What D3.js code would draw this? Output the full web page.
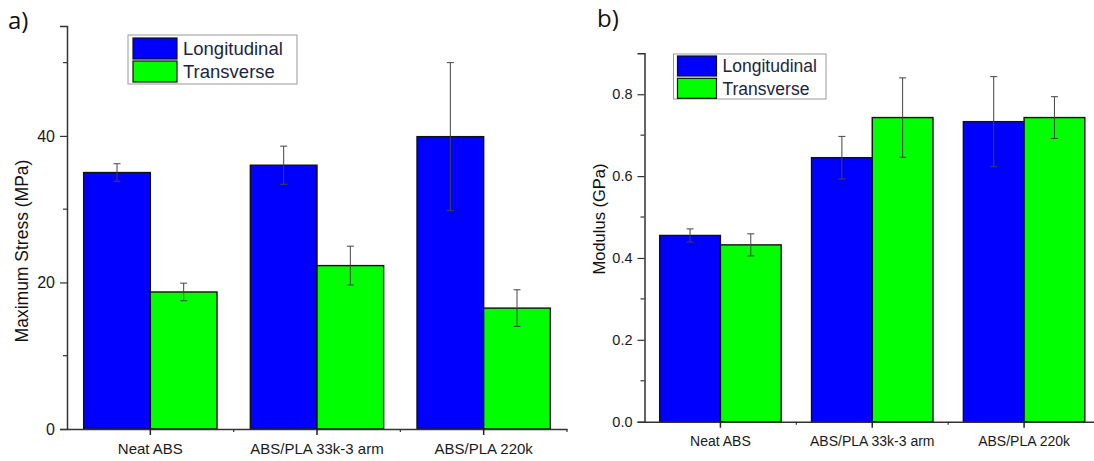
<!DOCTYPE html>
<html>
<head>
<meta charset="utf-8">
<script src="https://cdn.jsdelivr.net/npm/d3@7"></script>
<style>
  body { margin: 0; background: #fff; }
  svg { display: block; }
  svg text { font-family: "Liberation Sans", Arial, sans-serif; }
</style>
</head>
<body>
<svg id="chart" width="1094" height="461"></svg>
<script>
// data
var categories = ["Neat ABS", "ABS/PLA 33k-3 arm", "ABS/PLA 220k"];
var series = ["Longitudinal", "Transverse"];
var colors = ["#0000ff", "#00ff00"];

var stressLong = [35.0, 36.0, 39.9];
var stressLongErr = [1.2, 2.6, 10.1];
var stressTrans = [18.7, 22.3, 16.5];
var stressTransErr = [1.2, 2.65, 2.5];

var modLong = [0.455, 0.645, 0.733];
var modLongErr = [0.016, 0.052, 0.11];
var modTrans = [0.432, 0.743, 0.743];
var modTransErr = [0.027, 0.097, 0.051];

var stressTicks = [0, 20, 40];
var stressMinor = [10, 30, 50];
var modTicks = [0, 0.2, 0.4, 0.6, 0.8];
var modMinor = [0.1, 0.3, 0.5, 0.7];

var svg = d3.select("#chart");

function drawPanel(p) {
    var g = svg.append("g");

    var x = d3.scaleBand()
        .domain(categories)
        .range([p.x0, p.x1])
        .paddingInner(0.2)
        .paddingOuter(0.1);
    var xs = d3.scaleBand()
        .domain(series)
        .range([0, x.bandwidth()]);
    var y = d3.scaleLinear()
        .domain(p.domain)
        .range([p.y0, p.y1]);

    var rows = [];
    categories.forEach(function(c, i) {
        series.forEach(function(s, j) {
            rows.push({cat: c, ser: s, color: colors[j], v: p.values[j][i], e: p.errors[j][i]});
        });
    });

    // bars
    g.selectAll(".bar")
        .data(rows)
        .enter()
        .append("rect")
        .attr("class", "bar")
        .attr("x", function(d) { return x(d.cat) + xs(d.ser); })
        .attr("y", function(d) { return y(d.v); })
        .attr("width", xs.bandwidth())
        .attr("height", function(d) { return y(0) - y(d.v); })
        .attr("fill", function(d) { return d.color; })
        .attr("stroke", "#111")
        .attr("stroke-width", 1.4);

    // error bars
    var err = g.selectAll(".err")
        .data(rows)
        .enter()
        .append("g")
        .attr("class", "err")
        .attr("stroke", "#444")
        .attr("stroke-width", 1);
    err.append("line")
        .attr("x1", function(d) { return x(d.cat) + xs(d.ser) + xs.bandwidth() / 2; })
        .attr("x2", function(d) { return x(d.cat) + xs(d.ser) + xs.bandwidth() / 2; })
        .attr("y1", function(d) { return y(d.v + d.e); })
        .attr("y2", function(d) { return y(d.v - d.e); });
    [1, -1].forEach(function(sign) {
        err.append("line")
            .attr("x1", function(d) { return x(d.cat) + xs(d.ser) + xs.bandwidth() / 2 - 3.5; })
            .attr("x2", function(d) { return x(d.cat) + xs(d.ser) + xs.bandwidth() / 2 + 3.5; })
            .attr("y1", function(d) { return y(d.v + sign * d.e); })
            .attr("y2", function(d) { return y(d.v + sign * d.e); });
    });

    // y axis
    var yAxis = g.append("g")
        .attr("transform", "translate(" + p.x0 + ",0)")
        .call(d3.axisLeft(y).tickValues(p.ticks).tickSize(7).tickPadding(5)
            .tickFormat(p.fmt));
    yAxis.attr("font-family", null).attr("font-size", null);
    yAxis.select(".domain").attr("stroke", "#333").attr("stroke-width", 1.5);
    yAxis.selectAll(".tick line").attr("stroke", "#333").attr("stroke-width", 1.2);
    yAxis.selectAll(".tick text").attr("fill", "#1a1a1a")
        .style("font-size", p.tickFont + "px");
    g.append("g")
        .selectAll("line")
        .data(p.minor)
        .enter()
        .append("line")
        .attr("x1", p.x0 - 4)
        .attr("x2", p.x0)
        .attr("y1", y)
        .attr("y2", y)
        .attr("stroke", "#333")
        .attr("stroke-width", 1.2);

    // x axis
    var xAxis = g.append("g")
        .attr("transform", "translate(0," + p.y0 + ")")
        .call(d3.axisBottom(x).tickSize(6).tickPadding(8).tickSizeOuter(0));
    xAxis.attr("font-family", null).attr("font-size", null);
    xAxis.select(".domain").attr("stroke", "#333").attr("stroke-width", 1.5);
    xAxis.selectAll(".tick line").attr("stroke", "#222").attr("stroke-width", 1.5);
    xAxis.selectAll(".tick text").attr("fill", "#1a1a1a").style("font-size", p.xFont + "px");
    var step = x.step();
    g.append("g")
        .selectAll("line")
        .data(categories)
        .enter()
        .append("line")
        .attr("x1", function(d) { return x(d) - x.paddingOuter() * step + step; })
        .attr("x2", function(d) { return x(d) - x.paddingOuter() * step + step; })
        .attr("y1", p.y0)
        .attr("y2", p.y0 + 3)
        .attr("stroke", "#333")
        .attr("stroke-width", 1.2);

    // axis title
    g.append("text")
        .attr("transform", "translate(" + p.titleX + "," + p.titleY + ") rotate(-90)")
        .attr("text-anchor", "middle")
        .attr("fill", "#111")
        .style("font-size", p.titleFont + "px")
        .text(p.title);

    // panel letter
    g.append("text")
        .attr("x", p.letterX)
        .attr("y", p.letterY)
        .attr("fill", "#111")
        .style("font-family", "'Open Sans', sans-serif")
        .style("font-size", "24px")
        .text(p.letter);

    // legend
    var L = p.legend;
    var leg = g.append("g").attr("transform", "translate(" + L.x + "," + L.y + ")");
    leg.append("rect")
        .attr("width", L.w)
        .attr("height", L.h)
        .attr("fill", "#fff")
        .attr("stroke", "#999")
        .attr("stroke-width", 1);
    series.forEach(function(s, j) {
        leg.append("rect")
            .attr("x", L.sx)
            .attr("y", L.sy + j * L.row)
            .attr("width", L.sw)
            .attr("height", L.sh)
            .attr("fill", colors[j])
            .attr("stroke", "#111")
            .attr("stroke-width", 1.2);
        leg.append("text")
            .attr("x", L.tx)
            .attr("y", L.sy + j * L.row + L.sh / 2)
            .attr("dy", "0.36em")
            .attr("fill", "#1c2540")
            .style("font-size", L.font + "px")
            .text(s);
    });
}

drawPanel({
    x0: 67, x1: 567, y0: 429, y1: 26, domain: [0, 55],
    values: [stressLong, stressTrans], errors: [stressLongErr, stressTransErr],
    ticks: stressTicks, minor: stressMinor, fmt: d3.format("d"),
    tickFont: 16, xFont: 15,
    title: "Maximum Stress (MPa)", titleX: 28, titleY: 251, titleFont: 17.5,
    letter: "a)", letterX: 8, letterY: 29,
    legend: {x: 128, y: 35, w: 169, h: 49, sx: 5, sy: 3, sw: 44, sh: 21, row: 23, tx: 55, font: 18.5}
});

drawPanel({
    x0: 644.5, x1: 1100, y0: 421.7, y1: 53.3, domain: [0, 0.9],
    values: [modLong, modTrans], errors: [modLongErr, modTransErr],
    ticks: modTicks, minor: modMinor, fmt: d3.format(".1f"),
    tickFont: 14.5, xFont: 14,
    title: "Modulus (GPa)", titleX: 605, titleY: 219, titleFont: 16.5,
    letter: "b)", letterX: 597, letterY: 27,
    legend: {x: 673.5, y: 54, w: 152.5, h: 45, sx: 4, sy: 2, sw: 39, sh: 20, row: 22.3, tx: 49, font: 17.5}
});
</script>
</body>
</html>
